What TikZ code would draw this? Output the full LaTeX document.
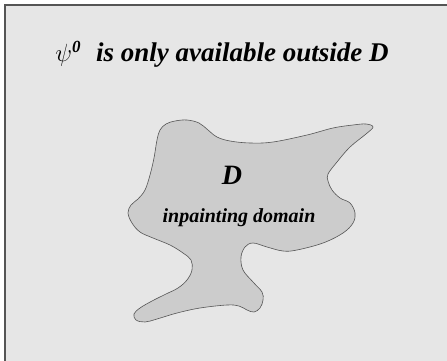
\documentclass[tikz,border=0pt]{standalone}
\usepackage{fontspec}
\setmainfont{Liberation Serif}
\definecolor{paper}{HTML}{E6E6E6}
\definecolor{region}{HTML}{CCCCCC}
\definecolor{edge}{HTML}{555555}
\tikzset{
  title/.style={font=\fontsize{27}{30}\selectfont\bfseries\itshape, anchor=base, inner sep=0pt},
  bigletter/.style={font=\fontsize{28}{32}\selectfont\bfseries\itshape, anchor=base, inner sep=0pt},
  caption/.style={font=\fontsize{20}{24}\selectfont\bfseries\itshape, anchor=base, inner sep=0pt},
}
\begin{document}
\begin{tikzpicture}[x=1pt,y=-1pt]
  \useasboundingbox (0,0) rectangle (447,361);
  \clip (0,0) rectangle (447,361);
  % panel background with its top and left border
  \fill[white] (0,0) rectangle (447,361);
  \fill[paper] (5,5) rectangle (460,380);
  \draw[edge, line width=1.6pt] (5,380) -- (5,5) -- (460,5);
  % the inpainting domain
  \draw[edge, fill=region, line width=0.6pt] plot[smooth cycle, tension=0.6] coordinates {
    (157,140) (160,130) (166,124) (175,121) (187,120) (199,123) (208,130)
    (217,137) (230,141) (250,143) (273,142) (307,135) (333,128) (353,125)
    (366,124) (373,127) (366,134) (350,147) (337,162) (328,174)
    (328,181) (332,190) (340,198) (350,203) (355,213) (353,223) (343,233)
    (323,243) (297,250) (283,251) (267,247) (253,243) (245,247) (241,257)
    (243,270) (253,282) (262,292) (263,300) (260,308) (254,312) (247,310)
    (239,306) (227,305) (200,308) (177,313) (157,319) (145,322) (136,320)
    (134,314) (140,308) (152,301) (166,294) (178,288) (187,280) (192,270)
    (191,260) (183,253) (170,245) (153,238) (140,232) (132,223) (128,213)
    (131,205) (138,199) (145,190) (150,175) (154,158)
  };
  \node[title] (head) at (222,62) {{\fontsize{31}{34}\selectfont$\psi^{\hbox{\fontsize{17}{18}\selectfont\bfseries\itshape 0}}$}\hspace{0.55em}is only available outside D};
  \node[bigletter] (dom) at (232,184) {D};
  \node[caption] (lbl) at (239,222) {inpainting domain};
\end{tikzpicture}
\end{document}
